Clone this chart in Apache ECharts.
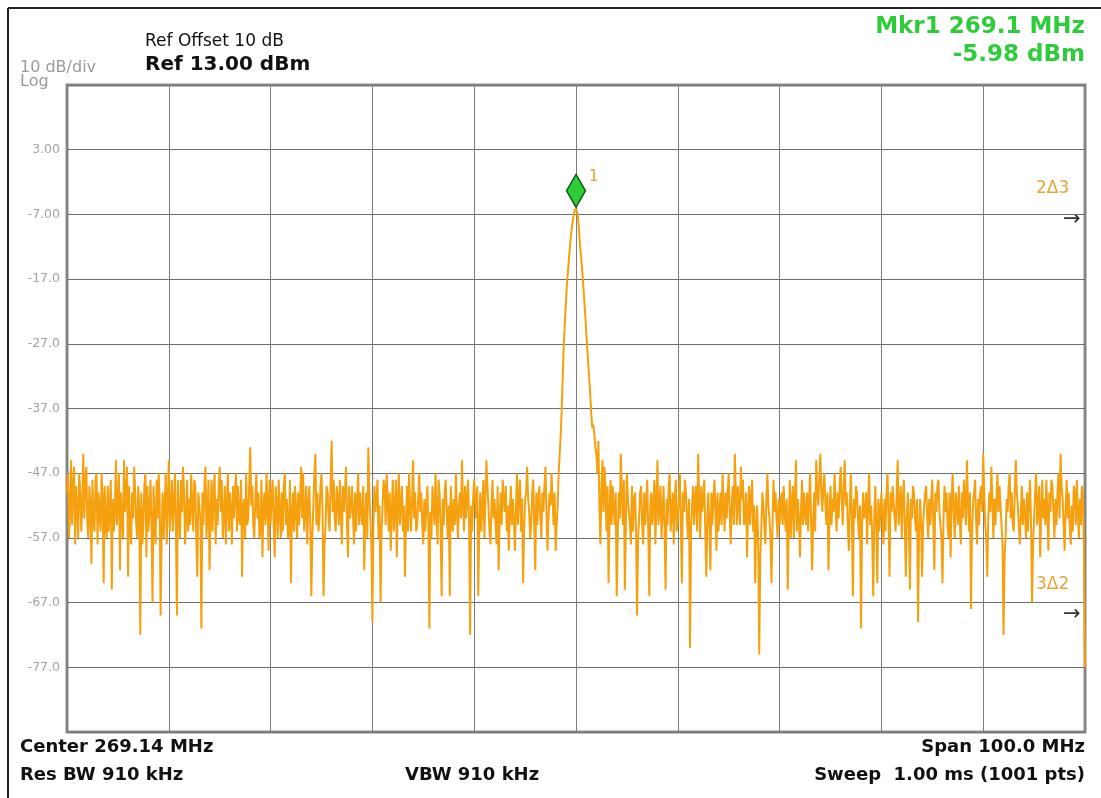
<!DOCTYPE html>
<html>
<head>
<meta charset="utf-8">
<script src="https://cdn.jsdelivr.net/npm/echarts@6/dist/echarts.min.js"></script>
<style>
  html, body { margin: 0; padding: 0; background: #fff; }
  #chart { width: 1101px; height: 798px; }
</style>
</head>
<body>
<div id="chart"></div>
<script>
// analyzer settings
var centerMHz = 269.14;
var spanMHz = 100;
var sweepPts = 1001;
var sampleStep = 1; // every trace point

// y scale (dBm): ref level on top, 10 dB/div
var refLevel = 13;
var bottomLevel = -87;
var dbPerDiv = 10;

// trace values (dBm), 1001 points across the span
var traceDbm = [
  -50,-47,-57,-53,-45,-55,-49,-46,-58,-49,-53,-57,-47,-50,-56,-52,-44,-54,-48,-46,-55,-57,-49,-52,-61,-48,-55,-56,-48,-47,-58,-50,-53,-56,-47,-51,-64,-49,-55,-57,
  -49,-56,-52,-48,-65,-51,-56,-53,-45,-55,-51,-47,-62,-50,-54,-57,-45,-53,-50,-46,-63,-49,-56,-58,-50,-54,-46,-50,-55,-57,-49,-53,-72,-50,-58,-55,-49,-47,-60,-49,
  -56,-53,-48,-55,-67,-49,-55,-58,-48,-54,-47,-51,-69,-56,-50,-57,-52,-47,-58,-51,-45,-56,-52,-48,-56,-52,-47,-55,-69,-48,-54,-57,-48,-53,-46,-50,-58,-54,-48,-56,
  -51,-55,-47,-52,-56,-48,-49,-57,-63,-50,-52,-54,-71,-50,-55,-49,-46,-57,-53,-48,-62,-54,-48,-56,-50,-47,-58,-51,-55,-49,-46,-53,-48,-57,-54,-49,-58,-52,-47,-56,
  -50,-53,-58,-49,-54,-50,-47,-56,-49,-54,-55,-48,-63,-52,-51,-57,-47,-55,-54,-49,-43,-52,-49,-55,-57,-51,-47,-54,-50,-57,-56,-48,-60,-52,-50,-55,-47,-52,-59,-48,
  -55,-51,-48,-55,-60,-49,-52,-57,-48,-53,-57,-50,-56,-49,-47,-55,-51,-57,-56,-48,-64,-53,-50,-56,-49,-53,-57,-50,-55,-51,-46,-54,-47,-56,-53,-49,-58,-52,-49,-55,
  -66,-57,-52,-47,-44,-55,-50,-56,-54,-49,-47,-53,-66,-58,-55,-49,-50,-54,-56,-48,-42,-53,-48,-54,-56,-49,-51,-55,-48,-53,-58,-49,-53,-50,-46,-55,-60,-49,-54,-52,
  -49,-54,-58,-50,-56,-51,-47,-55,-50,-53,-55,-49,-62,-54,-50,-57,-43,-50,-54,-58,-70,-55,-49,-53,-51,-48,-57,-52,-67,-56,-52,-48,-49,-55,-47,-51,-56,-50,-59,-53,
  -48,-56,-53,-48,-60,-51,-47,-55,-52,-49,-56,-52,-63,-55,-49,-56,-47,-52,-56,-51,-45,-54,-50,-56,-55,-51,-47,-53,-50,-55,-58,-51,-56,-52,-49,-55,-71,-53,-57,-49,
  -52,-55,-47,-53,-58,-48,-50,-56,-66,-51,-55,-50,-48,-53,-57,-52,-66,-49,-53,-56,-51,-55,-47,-53,-57,-52,-50,-54,-45,-52,-56,-49,-54,-51,-48,-55,-72,-52,-56,-51,
  -48,-51,-54,-49,-66,-55,-50,-56,-52,-48,-57,-51,-45,-49,-52,-56,-58,-52,-48,-54,-51,-55,-58,-49,-62,-54,-50,-55,-48,-51,-53,-49,-56,-52,-59,-53,-49,-55,-51,-54,
  -59,-53,-47,-55,-50,-48,-56,-51,-64,-56,-51,-50,-46,-51,-53,-57,-55,-50,-48,-55,-62,-50,-55,-51,-49,-54,-57,-50,-53,-49,-46,-53,-59,-54,-50,-52,-47,-51,-55,-50,
  -59,-55,-52,-47,-44,-41,-37,-32,-27,-24,-21,-18,-16,-14,-12,-10.4,-9,-7.8,-6.8,-6.2,-5.98,-6.5,-7.5,-9.5,-12,-13.6,-15.5,-17.7,-20,-22.4,-25,-27.6,-30,-32.4,-35,-37.8,-40,-39.5,-41,-43,
  -44,-47,-42,-52,-58,-49,-45,-53,-46,-50,-56,-49,-64,-53,-48,-55,-49,-52,-55,-50,-66,-57,-50,-54,-44,-50,-55,-48,-65,-55,-47,-51,-51,-55,-58,-49,-56,-51,-50,-56,
  -69,-57,-54,-50,-49,-55,-58,-50,-55,-51,-48,-56,-66,-52,-50,-55,-52,-48,-58,-51,-45,-55,-52,-49,-57,-53,-49,-56,-65,-51,-55,-49,-47,-56,-53,-50,-58,-51,-48,-56,
  -54,-51,-47,-55,-64,-50,-53,-48,-50,-54,-57,-51,-74,-56,-52,-49,-55,-51,-49,-56,-44,-51,-57,-49,-53,-51,-48,-56,-63,-54,-50,-55,-62,-50,-55,-51,-48,-53,-59,-50,
  -56,-53,-50,-55,-47,-52,-56,-50,-54,-50,-47,-53,-58,-52,-49,-55,-44,-50,-55,-49,-52,-55,-46,-51,-48,-55,-54,-50,-60,-53,-49,-55,-51,-48,-56,-52,-64,-55,-52,-58,
  -75,-60,-56,-50,-52,-55,-58,-51,-47,-52,-54,-57,-64,-55,-48,-53,-50,-54,-57,-51,-55,-52,-50,-55,-49,-53,-56,-51,-65,-55,-48,-57,-52,-49,-57,-51,-45,-56,-51,-54,
  -60,-53,-48,-55,-50,-53,-55,-50,-56,-51,-47,-55,-62,-54,-50,-56,-45,-50,-52,-48,-44,-50,-53,-49,-47,-52,-55,-50,-62,-54,-49,-55,-51,-53,-47,-52,-56,-50,-54,-49,
  -46,-51,-55,-49,-45,-52,-50,-55,-59,-52,-47,-54,-66,-51,-54,-49,-50,-54,-57,-52,-71,-55,-50,-54,-53,-50,-58,-51,-47,-55,-52,-57,-66,-54,-49,-55,-64,-51,-56,-53,
  -50,-54,-58,-51,-56,-50,-47,-54,-63,-50,-53,-49,-49,-54,-56,-50,-45,-55,-52,-49,-57,-51,-48,-55,-63,-54,-50,-55,-65,-51,-54,-49,-50,-54,-56,-51,-70,-56,-51,-55,
  -63,-55,-52,-50,-49,-54,-57,-51,-55,-51,-48,-55,-62,-50,-53,-49,-48,-53,-55,-57,-64,-54,-49,-53,-50,-55,-57,-50,-60,-51,-47,-53,-57,-50,-52,-55,-49,-54,-58,-50,
  -54,-48,-51,-55,-45,-51,-56,-50,-68,-56,-52,-50,-48,-54,-58,-51,-55,-50,-49,-53,-44,-50,-55,-57,-63,-54,-50,-53,-46,-51,-57,-51,-55,-51,-47,-53,-49,-52,-55,-58,
  -72,-60,-57,-51,-53,-49,-47,-54,-50,-55,-56,-50,-45,-50,-52,-55,-58,-53,-49,-55,-51,-53,-57,-50,-56,-51,-48,-55,-67,-58,-54,-50,-47,-55,-52,-49,-60,-53,-48,-54,
  -51,-55,-48,-53,-59,-50,-53,-48,-49,-53,-57,-51,-55,-50,-47,-54,-44,-49,-51,-55,-59,-52,-48,-54,-50,-55,-58,-52,-56,-49,-50,-55,-48,-53,-57,-51,-55,-49,-50,-60,
  -77
];

// marker 1
var mkrFreqMHz = 269.14;
var mkrLevel = -5.98;

var mhzPerPt = spanMHz / (sweepPts - 1);
var startMHz = centerMHz - spanMHz / 2;
// x axis runs in MHz from the left edge of the span
var traceData = traceDbm.map(function (v, i) {
  return [+(i * sampleStep * mhzPerPt).toFixed(3), v];
});

var fontStack = '"DejaVu Sans", "Liberation Sans", Arial, sans-serif';
var traceColor = '#f5a00f';
var mkrColor = '#2ecc3a';

var chart = echarts.init(document.getElementById('chart'));
chart.setOption({
  animation: false,
  backgroundColor: '#fff',
  grid: {
    show: true,
    left: 67,
    right: 16,
    top: 85,
    bottom: 66,
    backgroundColor: '#fff',
    borderColor: '#8c8c8c',
    borderWidth: 3
  },
  xAxis: {
    type: 'value',
    min: 0,
    max: spanMHz,
    interval: spanMHz / 10,
    axisLine: { show: false },
    axisTick: { show: false },
    axisLabel: { show: false },
    splitLine: { show: true, lineStyle: { color: '#7c7c7c', width: 1 } }
  },
  yAxis: {
    type: 'value',
    min: bottomLevel,
    max: refLevel,
    interval: dbPerDiv,
    axisLine: { show: false },
    axisTick: { show: false },
    axisLabel: {
      showMinLabel: false,
      showMaxLabel: false,
      margin: 7,
      color: '#a4a4a4',
      fontSize: 12.5,
      fontFamily: fontStack,
      formatter: function (v) {
        return Math.abs(v) < 10 ? v.toFixed(2) : v.toFixed(1);
      }
    },
    splitLine: { show: true, lineStyle: { color: '#6e6e6e', width: 1 } }
  },
  series: [{
    name: 'Trace 1',
    type: 'line',
    data: traceData,
    showSymbol: false,
    smooth: false,
    lineStyle: { color: traceColor, width: 2, join: 'bevel' },
    markPoint: {
      symbol: 'diamond',
      symbolSize: [19, 33],
      symbolOffset: [0, -17],
      itemStyle: { color: mkrColor, borderColor: '#0d5a12', borderWidth: 1.5 },
      label: {
        show: true,
        formatter: '1',
        position: 'right',
        distance: 3,
        offset: [0, -14],
        color: '#f0a020',
        fontSize: 15,
        fontFamily: fontStack
      },
      data: [{ coord: [mkrFreqMHz - startMHz, mkrLevel] }]
    }
  }],
  graphic: [
    // outer screen frame
    { type: 'line', shape: { x1: 8, y1: 8, x2: 1101, y2: 8 }, style: { stroke: '#222', lineWidth: 2 } },
    { type: 'line', shape: { x1: 8, y1: 8, x2: 8, y2: 798 }, style: { stroke: '#222', lineWidth: 2 } },
    // header
    { type: 'text', left: 145, top: 33, style: { text: 'Ref Offset 10 dB', fill: '#111', font: '17px ' + fontStack } },
    { type: 'text', left: 145, top: 55, style: { text: 'Ref 13.00 dBm', fill: '#111', font: 'bold 20px ' + fontStack } },
    { type: 'text', left: 20, top: 60, style: { text: '10 dB/div', fill: '#9a9a9a', font: '16px ' + fontStack } },
    { type: 'text', left: 20, top: 74, style: { text: 'Log', fill: '#9a9a9a', font: '16px ' + fontStack } },
    { type: 'text', right: 16, top: 16, style: { text: 'Mkr1 269.1 MHz', fill: mkrColor, font: 'bold 23px ' + fontStack } },
    { type: 'text', right: 16, top: 44, style: { text: '-5.98 dBm', fill: mkrColor, font: 'bold 23px ' + fontStack } },
    // delta marker tags on the right edge
    { type: 'text', left: 1036, top: 180, style: { text: '2\u03943', fill: '#e3a838', font: '17px ' + fontStack } },
    { type: 'text', left: 1063, top: 209, style: { text: '\u2192', fill: '#333', font: '21px ' + fontStack } },
    { type: 'text', left: 1036, top: 576, style: { text: '3\u03942', fill: '#e3a838', font: '17px ' + fontStack } },
    { type: 'text', left: 1063, top: 604, style: { text: '\u2192', fill: '#333', font: '21px ' + fontStack } },
    // footer
    { type: 'text', left: 20, top: 738, style: { text: 'Center 269.14 MHz', fill: '#111', font: 'bold 18px ' + fontStack } },
    { type: 'text', left: 20, top: 766, style: { text: 'Res BW 910 kHz', fill: '#111', font: 'bold 18px ' + fontStack } },
    { type: 'text', left: 405, top: 766, style: { text: 'VBW 910 kHz', fill: '#111', font: 'bold 18px ' + fontStack } },
    { type: 'text', right: 16, top: 738, style: { text: 'Span 100.0 MHz', fill: '#111', font: 'bold 18px ' + fontStack } },
    { type: 'text', right: 16, top: 766, style: { text: 'Sweep  1.00 ms (1001 pts)', fill: '#111', font: 'bold 18px ' + fontStack } }
  ]
});
</script>
</body>
</html>
